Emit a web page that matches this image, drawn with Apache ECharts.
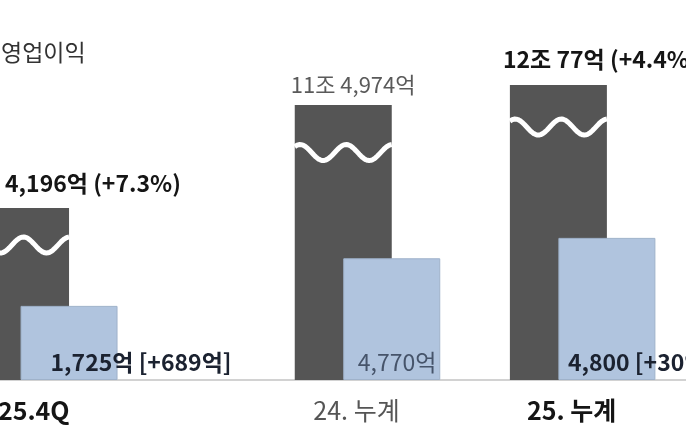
<!DOCTYPE html>
<html><head><meta charset="utf-8">
<script src="https://cdn.jsdelivr.net/npm/echarts@6/dist/echarts.min.js"></script>
<style>html,body{margin:0;padding:0;background:#fff}#c{width:686px;height:440px}</style>
</head><body><div id="c"></div>
<script>
// ---- data (visual heights on a 0-100 scale) ----
const categories   = ['25.4Q', '', '', '24. 누계', '', '25. 누계', ''];
const darkHeights  = [50.6, null, null, 80.9, null, 86.8, null];
const breakLevels  = [39.7, null, null, 66.9, null, 74.4, null];
const blueHeights  = [21.8, null, null, 35.8, null, 41.8, null];
const darkLabels   = ['4,196억 (+7.3%)', '', '', '11조 4,974억', '', '12조 77억 (+4.4%)', ''];
const blueLabels   = ['1,725억 [+689억]', '', '', '4,770억', '', '4,800 [+30억]', ''];
const titleText    = '영업이익';

// ---- styling ----
const BAR_W = 97;
const DARK = '#555555', BLUE = '#b0c4de';
const FONT = '"Noto Sans CJK KR", "Noto Sans", sans-serif';
const emphasis = [true, false, false, false, false, true, false]; // bold vs gray
const darkLabelOffsetX = [-15.5, 0, 0, -52.5, 0, -55.5, 0];
const darkLabelDist    = [25, 0, 0, 20, 0, 26, 0];
const blueLabelOffsetX = [-18.5, 0, 0, -34, 0, -39, 0];

const chart = echarts.init(document.getElementById('c'), null, {renderer: 'canvas'});

const darkData = darkHeights.map((v, i) => v == null ? '-' : {
  value: v,
  label: {
    show: true, position: 'top', distance: darkLabelDist[i], align: 'left', verticalAlign: 'middle',
    offset: [darkLabelOffsetX[i], 0], formatter: darkLabels[i], fontFamily: FONT,
    fontSize: emphasis[i] ? 23 : 22,
    fontWeight: emphasis[i] ? 'bold' : 'normal', color: emphasis[i] ? '#151515' : '#5a5a5a'
  }
});
const blueData = blueHeights.map((v, i) => v == null ? '-' : {
  value: v,
  label: {
    show: true, position: 'insideBottom', distance: 18, align: 'left', verticalAlign: 'middle',
    offset: [blueLabelOffsetX[i], 0], formatter: blueLabels[i], fontFamily: FONT, fontSize: 23,
    fontWeight: emphasis[i] ? 'bold' : 'normal', color: emphasis[i] ? '#1b2230' : '#46546a'
  }
});
const waveData = breakLevels.map((v, i) => v == null ? null : [i, v]).filter(Boolean);

chart.setOption({
  animation: false,
  backgroundColor: '#ffffff',
  title: {
    text: titleText, left: -4, top: 36,
    textStyle: {fontFamily: FONT, fontSize: 23, fontWeight: 'normal', color: '#333333'}
  },
  grid: {left: -9, right: -58, top: 40, bottom: 60, containLabel: false, outerBoundsMode: 'none'},
  xAxis: {
    type: 'category', data: categories,
    axisLine: {show: true, lineStyle: {color: '#d2d2d2', width: 2}},
    axisTick: {show: false},
    axisLabel: {
      interval: 0, margin: 18, padding: [0, 22, 0, 0],
      formatter: (v, i) => v ? (emphasis[i] ? '{b|' + v + '}' : '{g|' + v + '}') : '',
      rich: {
        b: {fontFamily: FONT, fontSize: 25, fontWeight: 'bold', color: '#151515'},
        g: {fontFamily: FONT, fontSize: 25, fontWeight: 'normal', color: '#555555'}
      }
    }
  },
  yAxis: {type: 'value', min: 0, max: 100, show: false, splitLine: {show: false}},
  series: [
    {type: 'bar', name: 'dark', data: darkData, barWidth: BAR_W, barGap: '-50%', clip: false,
     itemStyle: {color: DARK}, z: 2},
    {type: 'bar', name: 'blue', data: blueData, barWidth: BAR_W, barGap: '-50%', clip: false,
     itemStyle: {color: BLUE, borderColor: '#9fb2ca', borderWidth: 1}, z: 3},
    {type: 'custom', name: 'break', data: waveData, z: 4, clip: false,
     renderItem: function (params, api) {
       const p = api.coord([api.value(0), api.value(1)]);
       const left = p[0] - 0.75 * BAR_W;
       const pts = [];
       const A = 8, N = 60;
       for (let k = 0; k <= N; k++) {
         const t = k / N;
         pts.push([left + t * BAR_W, p[1] - A * Math.cos(2 * Math.PI * (t - 0.53) / 0.475)]);
       }
       return {
         type: 'polyline', shape: {points: pts, smooth: 0},
         style: {stroke: '#ffffff', lineWidth: 5, fill: null, lineCap: 'butt', lineJoin: 'round'}
       };
     }}
  ]
});
</script></body></html>
